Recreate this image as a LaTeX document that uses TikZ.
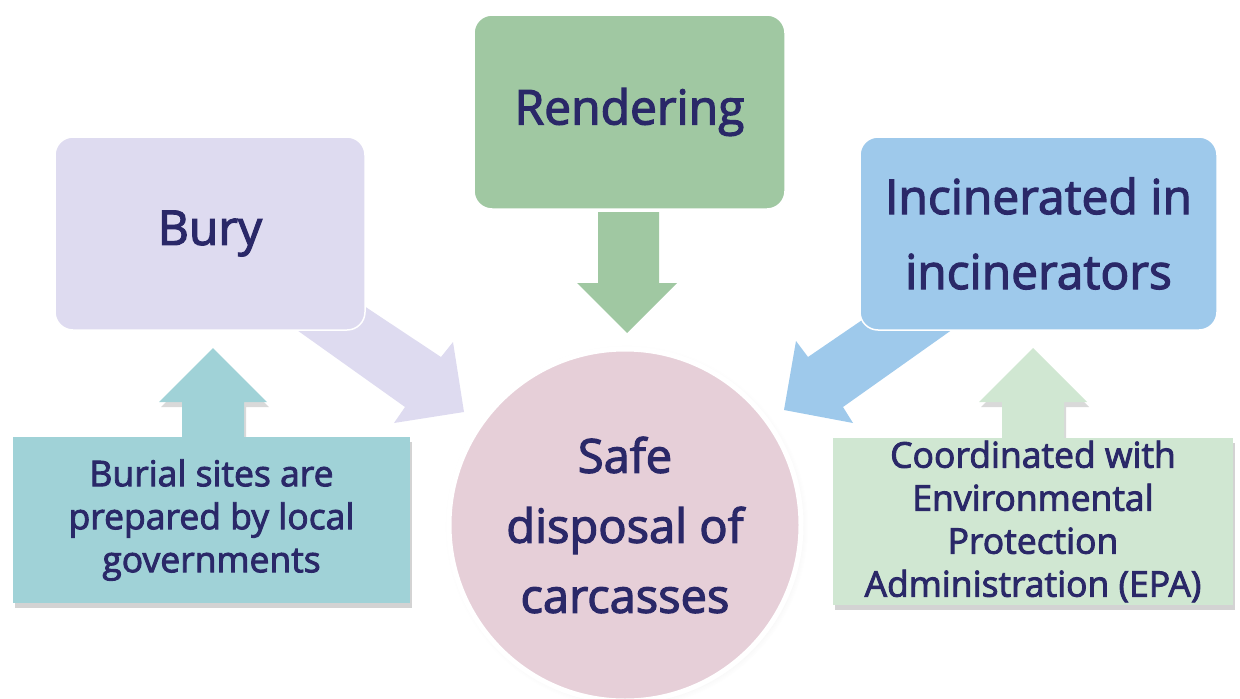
\documentclass[tikz,border=0pt]{standalone}
\usepackage{xcolor}
\usepackage{fontspec}
\setmainfont{Open Sans}
\newfontfamily\boxfont{Open Sans}[FakeBold=2.5]
\usepackage{tikz}
\usetikzlibrary{shadows}
\definecolor{mynavy}{RGB}{42,40,104}
\definecolor{mylav}{RGB}{222,219,240}
\definecolor{mygreen}{RGB}{160,200,162}
\definecolor{myblue}{RGB}{158,201,235}
\definecolor{mypink}{RGB}{230,207,216}
\definecolor{myteal}{RGB}{160,210,215}
\definecolor{mymint}{RGB}{208,231,210}
\tikzset{
  method/.style={rectangle, draw=white, line width=1.5pt, rounded corners=18pt,
    align=center, inner sep=0pt, text=mynavy,
    font=\boxfont\fontsize{48}{75}\selectfont},
  note/.style={rectangle, align=center, inner sep=0pt, text=mynavy,
    font=\boxfont\fontsize{35.5}{43}\selectfont,
    drop shadow={shadow xshift=2pt, shadow yshift=-5pt, opacity=0.35, fill=gray}},
  goal/.style={circle, draw=white, line width=5pt, align=center, inner sep=0pt,
    minimum size=352pt, text=mynavy, font=\boxfont\fontsize{47}{70}\selectfont,
    circular drop shadow={shadow scale=1.03, opacity=0.2}},
  blockarrow/.style={drop shadow={shadow xshift=2pt, shadow yshift=-5pt, opacity=0.3, fill=gray}}
}
\begin{document}
\begin{tikzpicture}[x=1pt, y=-1pt]
\useasboundingbox (0,0) rectangle (1240,699);
% arrows into the circle
\fill[mylav] (340,290) -- (441,357) -- (453,342) -- (464,412) -- (394,423) -- (405,407) -- (280,318) -- cycle;
\fill[myblue] (890,301) -- (808,357) -- (796,341) -- (784,410) -- (853,423) -- (843,407) -- (970,317) -- cycle;
\fill[mygreen] (598,212) -- (659,212) -- (659,283) -- (677,283) -- (627,333) -- (577,283) -- (598,283) -- cycle;
% arrows up from the notes
\fill[myteal, blockarrow] (182,445) -- (182,402) -- (159,402) -- (213,348) -- (267,402) -- (244,402) -- (244,445) -- cycle;
\fill[mymint, blockarrow] (1002,445) -- (1002,402) -- (979,402) -- (1033,348) -- (1087,402) -- (1064,402) -- (1064,445) -- cycle;
% methods
\node[method, fill=mylav, minimum width=310pt, minimum height=193pt] (bury) at (210,233.5) {Bury};
\node[method, fill=mygreen, minimum width=311pt, minimum height=194pt] (render) at (629.5,112) {Rendering};
\node[method, fill=myblue, minimum width=357pt, minimum height=193pt] (burn) at (1038.5,233.5) {Incinerated in\\incinerators};
% notes
\node[note, fill=myteal, minimum width=397pt, minimum height=166pt] (sites) at (211.5,520) {Burial sites are\\prepared by local\\governments};
\node[note, fill=mymint, minimum width=400pt, minimum height=167pt] (epa) at (1033,521.5) {Coordinated with\\Environmental\\Protection\\Administration (EPA)};
% goal
\node[goal, fill=mypink] (safe) at (625,525) {Safe\\disposal of\\carcasses};
\end{tikzpicture}
\end{document}
